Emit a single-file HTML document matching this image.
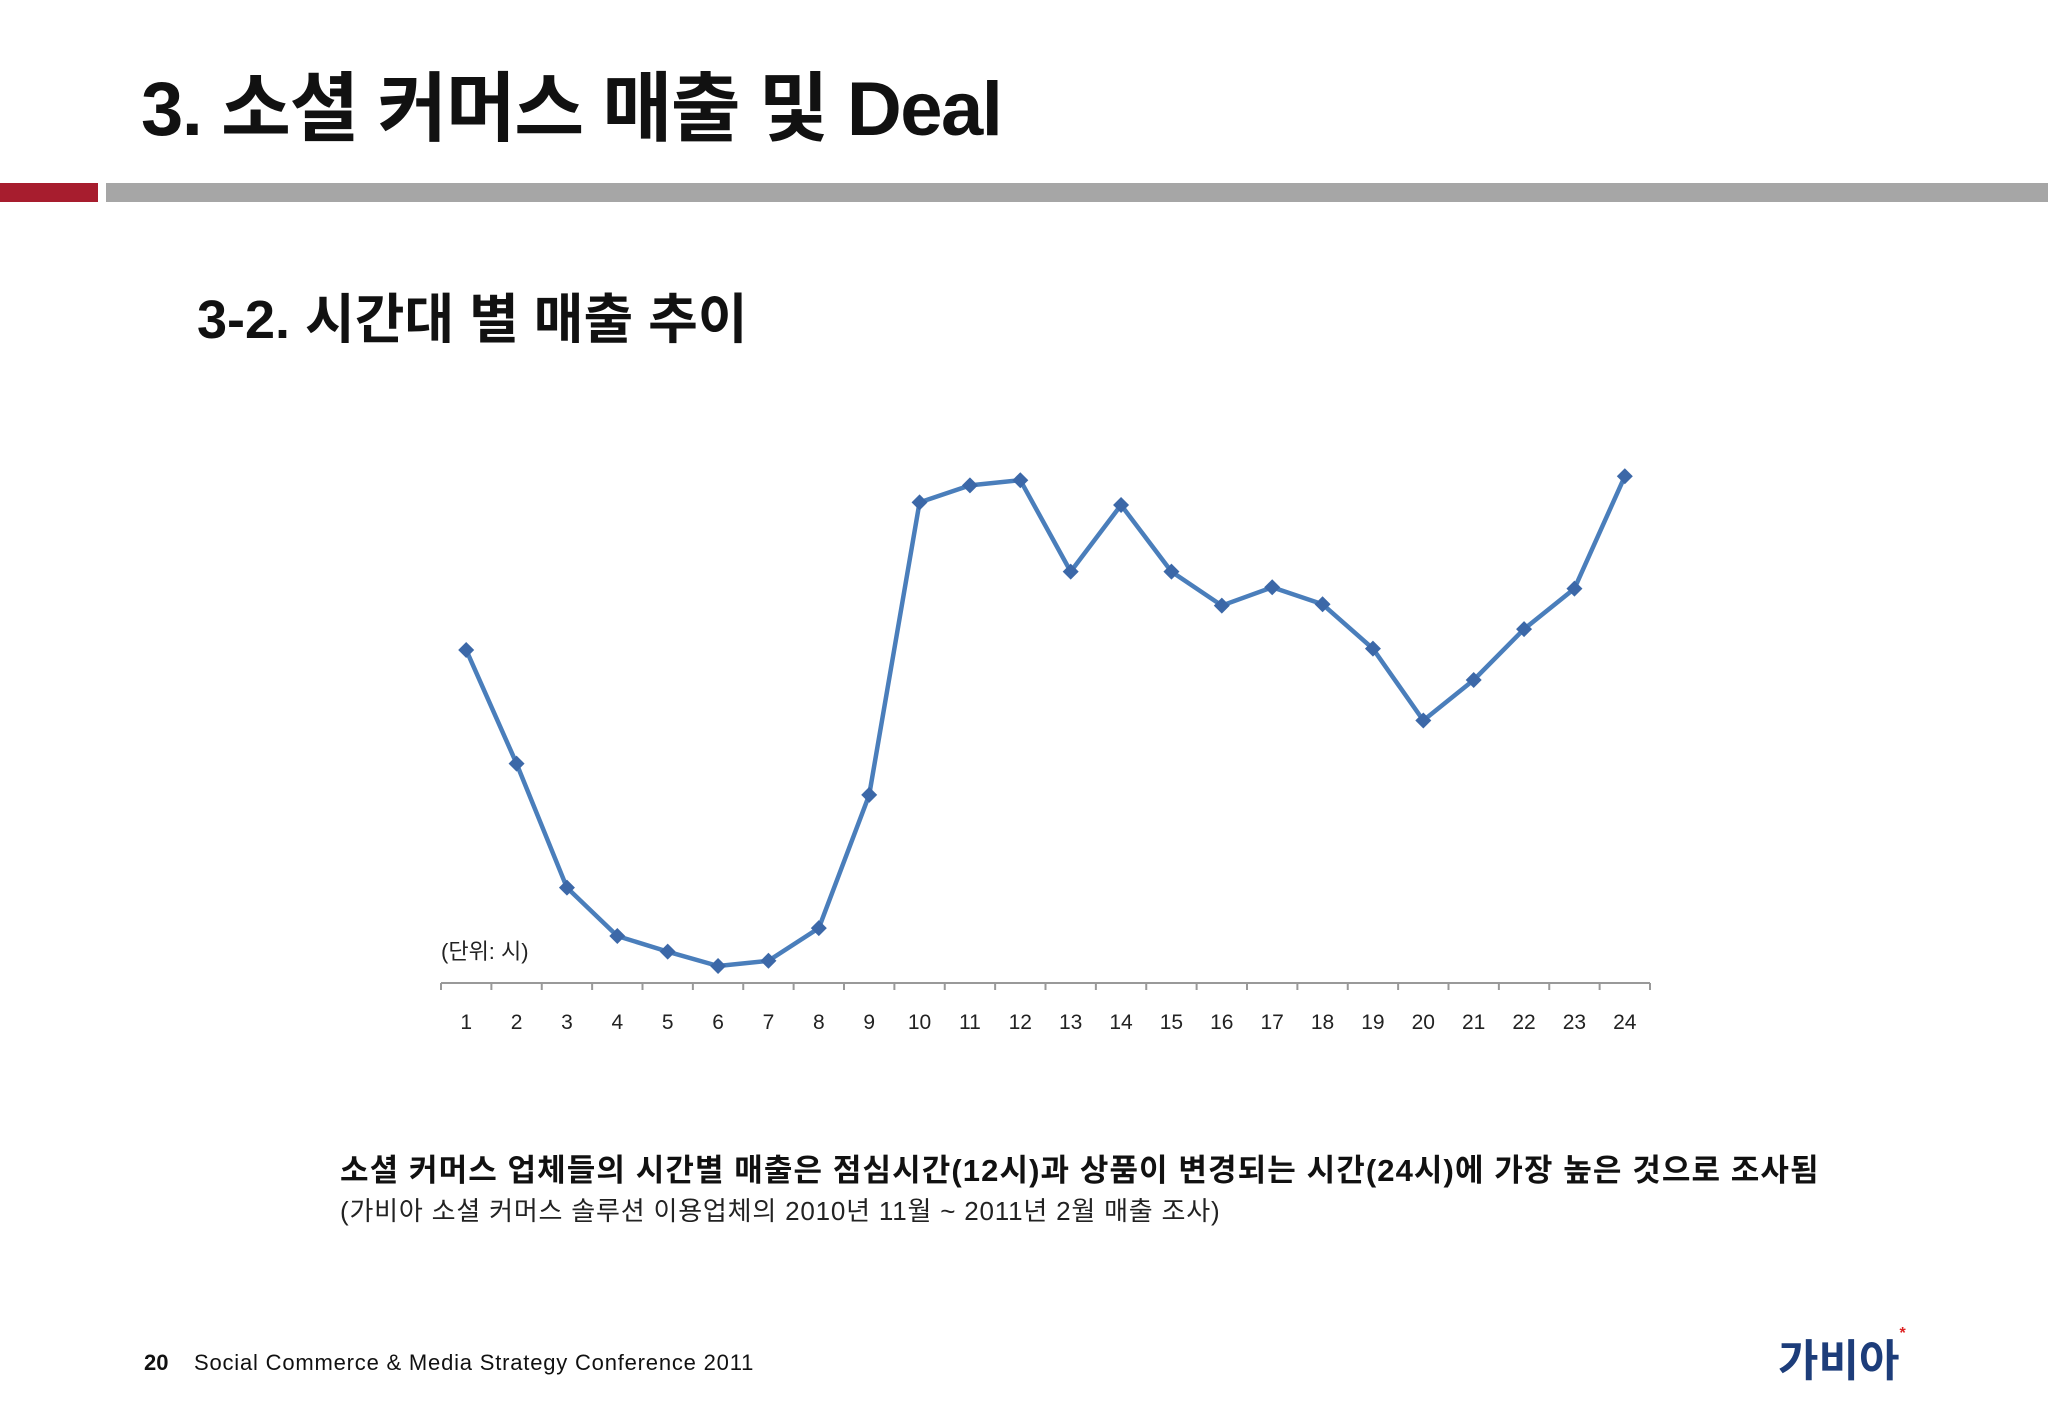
<!DOCTYPE html>
<html><head><meta charset="utf-8">
<style>
html,body{margin:0;padding:0;background:#fff;}
body{width:2048px;height:1418px;position:relative;overflow:hidden;font-family:"Liberation Sans","Noto Sans CJK KR",sans-serif;}
.abs{position:absolute;white-space:nowrap;}
</style></head><body>
<div class="abs" style="left:141px;top:47px;font-size:76px;font-weight:bold;color:#111;letter-spacing:-1.5px;">3. 소셜 커머스 매출 및 Deal</div>
<div class="abs" style="left:0;top:183px;width:98px;height:19px;background:#a71d2e;"></div>
<div class="abs" style="left:106px;top:183px;width:1942px;height:19px;background:#a6a6a6;"></div>
<div class="abs" style="left:197px;top:275px;font-size:54px;font-weight:bold;color:#111;">3-2. 시간대 별 매출 추이</div>

<svg class="abs" style="left:0;top:0" width="2048" height="1418" id="chart"></svg>

<div class="abs" style="left:340px;top:1145px;font-size:31px;font-weight:bold;color:#111;letter-spacing:1.1px;">소셜 커머스 업체들의 시간별 매출은 점심시간(12시)과 상품이 변경되는 시간(24시)에 가장 높은 것으로 조사됨</div>
<div class="abs" style="left:340px;top:1191px;font-size:26px;color:#222;letter-spacing:0.8px;">(가비아 소셜 커머스 솔루션 이용업체의 2010년 11월 ~ 2011년 2월 매출 조사)</div>
<div class="abs" style="left:144px;top:1350px;font-size:22px;font-weight:bold;color:#111;">20</div>
<div class="abs" style="left:194px;top:1350px;font-size:22px;color:#111;letter-spacing:0.8px;">Social Commerce &amp; Media Strategy Conference 2011</div>
<div class="abs" style="left:1778px;top:1325px;font-size:44px;font-weight:bold;color:#1d3d7a;">가비아<span style="color:#d22;font-size:16px;vertical-align:top;">*</span></div>

<script>
const categories=["1","2","3","4","5","6","7","8","9","10","11","12","13","14","15","16","17","18","19","20","21","22","23","24"];
const salesValues=[255,168,73,36,24,13,17,42,144,368,381,385,315,366,315,289,303,290,256,201,232,271,302,388];
const svg=document.getElementById('chart');
const NS='http://www.w3.org/2000/svg';
const axisY=983, x0=441, x1=1650, scale=1.306;
const step=(x1-x0)/categories.length;
function xPos(i){return x0+step*(i+0.5);}
function yPos(v){return axisY-v*scale;}
function mk(t,a){const e=document.createElementNS(NS,t);for(const k in a)e.setAttribute(k,a[k]);svg.appendChild(e);return e;}
const ax=mk('line',{x1:x0,y1:axisY,x2:x1,y2:axisY,stroke:'#999','stroke-width':2});


for(let i=0;i<=categories.length;i++){
  const t=mk('line',{x1:x0+step*i,y1:axisY,x2:x0+step*i,y2:axisY+7,stroke:'#999','stroke-width':2});
  
  
}
categories.forEach((c,i)=>{
  const tx=mk('text',{x:xPos(i),y:axisY+46,'text-anchor':'middle','font-size':21,fill:'#222','font-family':'Liberation Sans, sans-serif'});
  tx.textContent=c;
  
  
});
const unit=mk('text',{x:441,y:959,'font-size':22,fill:'#222','font-family':'Liberation Sans, Noto Sans CJK KR, sans-serif'});
unit.textContent='(단위: 시)';


const pts=salesValues.map((v,i)=>xPos(i)+','+yPos(v)).join(' ');
const pl=mk('polyline',{points:pts,fill:'none',stroke:'#4a7ebb','stroke-width':4.5,'stroke-linejoin':'round'});


salesValues.forEach((v,i)=>{
  const x=xPos(i),y=yPos(v),r=8;
  const d=mk('polygon',{points:`${x},${y-r} ${x+r},${y} ${x},${y+r} ${x-r},${y}`,fill:'#3c68a8'});
  
  
});
</script>
</body></html>
